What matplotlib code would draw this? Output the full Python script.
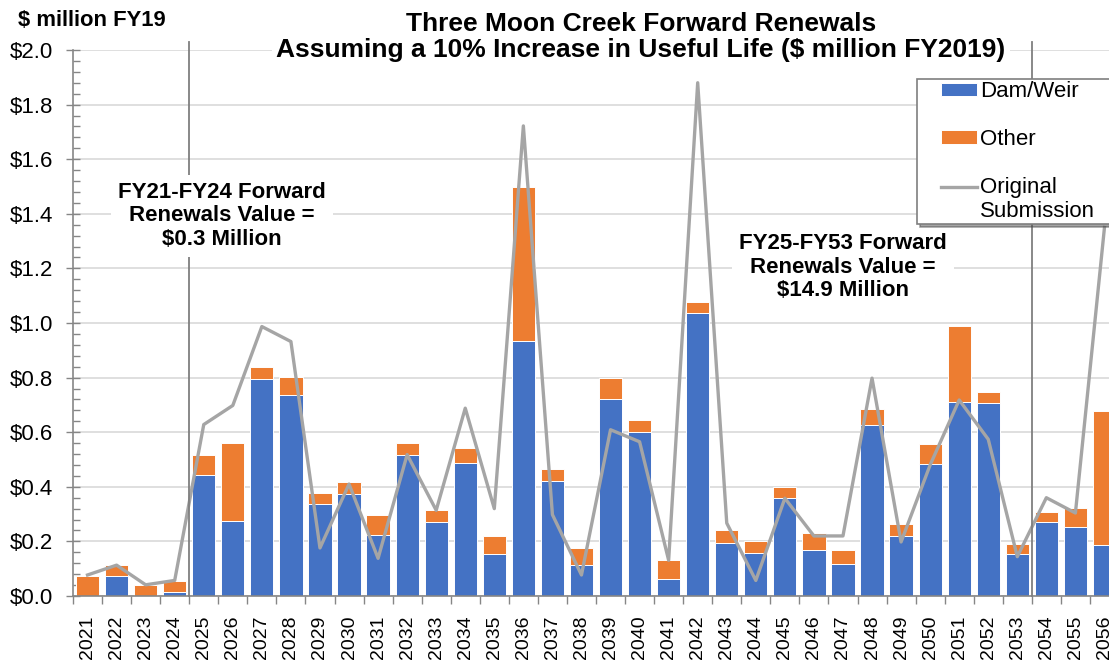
import numpy as np
import matplotlib
matplotlib.use('Agg')
import matplotlib.pyplot as plt

plt.rcParams['font.family'] = ['Liberation Sans', 'DejaVu Sans']

years = list(range(2021, 2057))

dam_weir = [0.000, 0.072, 0.000, 0.015, 0.443, 0.274, 0.796, 0.736, 0.336, 0.374,
            0.224, 0.518, 0.271, 0.489, 0.154, 0.935, 0.422, 0.113, 0.722, 0.602,
            0.061, 1.035, 0.194, 0.158, 0.359, 0.167, 0.117, 0.625, 0.220, 0.485,
            0.712, 0.708, 0.154, 0.270, 0.252, 0.187]

other = [0.075, 0.040, 0.040, 0.041, 0.072, 0.287, 0.041, 0.065, 0.043, 0.043,
         0.071, 0.041, 0.043, 0.053, 0.064, 0.563, 0.043, 0.062, 0.078, 0.043,
         0.070, 0.041, 0.046, 0.042, 0.039, 0.064, 0.051, 0.060, 0.042, 0.073,
         0.277, 0.041, 0.037, 0.038, 0.071, 0.489]

original_submission = [0.077, 0.113, 0.041, 0.057, 0.628, 0.698, 0.987, 0.932, 0.176, 0.410,
                       0.138, 0.518, 0.314, 0.688, 0.320, 1.722, 0.298, 0.077, 0.609, 0.565,
                       0.131, 1.880, 0.267, 0.057, 0.358, 0.220, 0.220, 0.798, 0.198, 0.480,
                       0.718, 0.574, 0.144, 0.360, 0.304, 1.350]

# first year of each period (FY25-FY53, FY54 onwards)
period_starts = [2025, 2054]

BLUE = '#4472C4'
ORANGE = '#ED7D31'
GREY_LINE = '#A5A5A5'
AXIS_GREY = '#868686'

fig = plt.figure(figsize=(11.09, 6.61), dpi=100)
ax = fig.add_axes([73 / 1109, 65 / 661, 1046 / 1109, 546 / 661])

ind = np.arange(len(years))
bar_width = 0.8

p1 = ax.bar(ind, dam_weir, bar_width, color=BLUE, edgecolor='white',
            linewidth=0.7, zorder=2)
p2 = ax.bar(ind, other, bar_width, bottom=dam_weir, color=ORANGE,
            edgecolor='white', linewidth=0.7, zorder=2)
l1, = ax.plot(ind, original_submission, color=GREY_LINE, linewidth=2.4,
              zorder=3)

for year in period_starts:
    xs = years.index(year) - 0.5
    ax.plot([xs, xs], [0, 2.03], color='#7F7F7F', linewidth=1.3,
            zorder=4, clip_on=False)

ax.set_xlim(-0.5, len(years) - 0.5)
ax.set_ylim(0, 2.0)

# y axis
ax.set_yticks(np.arange(0, 2.01, 0.2))
ax.set_yticks(np.arange(0, 2.01, 0.04), minor=True)
ax.set_yticklabels(['$%.1f' % v for v in np.arange(0, 2.01, 0.2)],
                   fontsize=16)
ax.tick_params(axis='y', which='major', direction='inout', length=10,
               width=1, color=AXIS_GREY, pad=9)
ax.tick_params(axis='y', which='minor', direction='in', length=5,
               width=1, color=AXIS_GREY)
ax.yaxis.grid(True, which='major', color='#D9D9D9', linewidth=1.2, zorder=0)
ax.set_axisbelow(True)

# x axis: ticks between bars, labels under bars
ax.set_xticks(np.arange(-0.5, len(years), 1.0))
ax.set_xticklabels([])
ax.set_xticks(ind, minor=True)
ax.set_xticklabels([str(y) for y in years], minor=True, rotation=90,
                   fontsize=14)
ax.tick_params(axis='x', which='major', direction='out', length=6,
               width=1, color=AXIS_GREY)
ax.tick_params(axis='x', which='minor', length=0, pad=14)

for side in ['top', 'right']:
    ax.spines[side].set_visible(False)
for side in ['left', 'bottom']:
    ax.spines[side].set_color(AXIS_GREY)
    ax.spines[side].set_linewidth(1.2)

ax.text(years.index(2025) + 0.63, 1.392,
        'FY21-FY24 Forward\nRenewals Value =\n$0.3 Million',
        ha='center', va='center', fontsize=16, fontweight='bold',
        linespacing=1.17, zorder=5,
        bbox=dict(facecolor='white', edgecolor='none', pad=5))

ax.text(years.index(2047), 1.205,
        'FY25-FY53 Forward\nRenewals Value =\n$14.9 Million',
        ha='center', va='center', fontsize=16, fontweight='bold',
        linespacing=1.17, zorder=5,
        bbox=dict(facecolor='white', edgecolor='none', pad=5))

fig.text(641 / 1109, 1 - 37 / 661,
         'Three Moon Creek Forward Renewals\n'
         'Assuming a 10% Increase in Useful Life ($ million FY2019)',
         ha='center', va='center', fontsize=19, fontweight='bold',
         linespacing=1.13,
         bbox=dict(facecolor='white', edgecolor='none', pad=3))

fig.text(18 / 1109, 1 - 20 / 661, '$ million FY19', ha='left', va='center',
         fontsize=15.8, fontweight='bold')

leg_fs = 16
hl = 2.6
leg = ax.legend((p1, p2, l1), ('Dam/Weir', 'Other', 'Original\nSubmission'),
                loc='upper left',
                bbox_to_anchor=(917 / 1109, 1 - 79 / 661, 205 / 1109, 0),
                bbox_transform=fig.transFigure, mode='expand',
                fontsize=leg_fs, frameon=True, fancybox=False, shadow=True,
                borderaxespad=0, borderpad=0.1, handlelength=hl,
                handleheight=0.55, handletextpad=0.15, labelspacing=1.2)
leg.get_frame().set_edgecolor('#7F7F7F')
leg.get_frame().set_linewidth(1.2)
leg.set_zorder(6)

# short legend keys sitting next to the labels
key_w = 26.0
box_w = hl * leg_fs
for h in leg.legend_handles:
    if hasattr(h, 'set_width'):
        h.set_x(box_w - key_w)
        h.set_width(key_w)
    else:
        y0 = h.get_ydata()[0] + 0.6 * leg_fs
        h.set_xdata([box_w - key_w, box_w])
        h.set_ydata([y0, y0])

plt.savefig('out.png', dpi=100)
